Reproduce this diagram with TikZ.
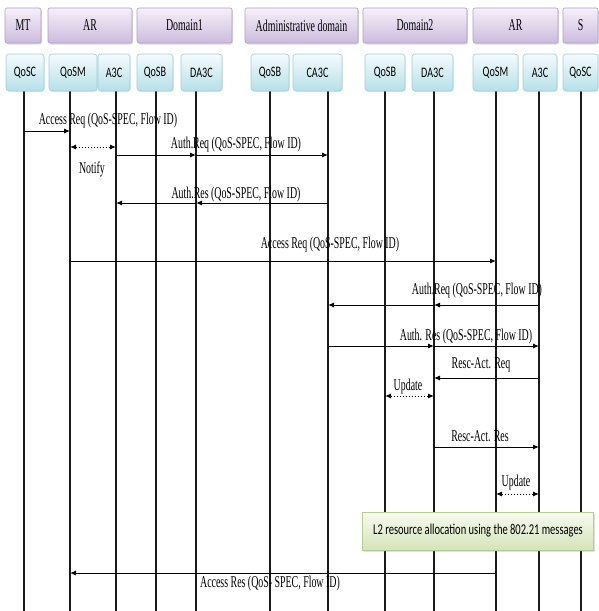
\documentclass[tikz,border=0pt]{standalone}
\usepackage{fontspec}
\setmainfont{Liberation Serif}
\newfontfamily\hdfont[FakeStretch=0.6]{Liberation Serif}
\newfontfamily\boxfont[FakeStretch=0.7]{Carlito}
\usetikzlibrary{arrows.meta,calc,shadows}
\definecolor{hdtop}{HTML}{F5F0F9}
\definecolor{hdbot}{HTML}{CDBBDE}
\definecolor{hdline}{HTML}{B09AC6}
\definecolor{cytop}{HTML}{F4FBFC}
\definecolor{cybot}{HTML}{B6DFE8}
\definecolor{cyline}{HTML}{9ACFDA}
\definecolor{grtop}{HTML}{F7FAEF}
\definecolor{grbot}{HTML}{D3E4B9}
\definecolor{grline}{HTML}{B5CC92}
\definecolor{lifecol}{HTML}{1A1A1A}
\tikzset{
  hdbox/.style={rounded corners=2pt, draw=hdline, line width=0.6pt, top color=hdtop, bottom color=hdbot,
    minimum height=35pt, inner sep=0pt, font=\hdfont\fontsize{16.5}{17}\selectfont,
    drop shadow={shadow xshift=1.2pt, shadow yshift=-1.5pt, opacity=0.25}},
  cybox/.style={rounded corners=3pt, draw=cyline, line width=0.6pt, top color=cytop, bottom color=cybot,
    minimum height=37pt, inner sep=0pt, font=\boxfont\fontsize{14.5}{15}\selectfont,
    drop shadow={shadow xshift=0.8pt, shadow yshift=-1pt, opacity=0.15}},
  grbox/.style={draw=grline, line width=0.6pt, top color=grtop, bottom color=grbot,
    minimum width=231pt, minimum height=38pt, inner sep=0pt, font=\boxfont\fontsize{15}{16}\selectfont,
    drop shadow={shadow xshift=1.2pt, shadow yshift=-1.5pt, opacity=0.25}},
  life/.style={draw=lifecol, line width=1.3pt},
  msg/.style={draw=black, line width=1pt, -{Latex[length=6pt,width=5pt]}},
  dotmsg/.style={draw=black, line width=1pt, dotted, {Latex[length=6pt,width=5pt]}-{Latex[length=6pt,width=5pt]}},
  msglabel/.style={inner sep=0pt, font=\hdfont\fontsize{16.5}{17}\selectfont}
}
\begin{document}
\begin{tikzpicture}[x=1pt,y=-1pt]
\fill[white] (0,0) rectangle (599,611);
\useasboundingbox (0,0) rectangle (599,611);

% lifeline anchors
\coordinate (L1) at (24,91);
\coordinate (L2) at (70,91);
\coordinate (L3) at (116,91);
\coordinate (L4) at (156,91);
\coordinate (L5) at (196,91);
\coordinate (L6) at (270,91);
\coordinate (L7) at (328,91);
\coordinate (L8) at (385,91);
\coordinate (L9) at (434,91);
\coordinate (L10) at (496,91);
\coordinate (L11) at (539,91);
\coordinate (L12) at (581,91);
\coordinate (bot) at (0,611);

\foreach \k in {1,...,12} {\draw[life] (L\k) -- (L\k |- bot);}

% header boxes
\node[hdbox, minimum width=36pt] (mt) at (23,25.5) {MT};
\node[hdbox, minimum width=84pt] (ar1) at (90,25.5) {AR};
\node[hdbox, minimum width=95pt] (dom1) at (184.5,25.5) {Domain1};
\node[hdbox, minimum width=113pt] (adm) at (301.5,25.5) {Administrative domain};
\node[hdbox, minimum width=104pt] (dom2) at (415,25.5) {Domain2};
\node[hdbox, minimum width=85pt] (ar2) at (515.5,25.5) {AR};
\node[hdbox, minimum width=35pt] (s) at (580.5,25.5) {S};

% component boxes
\node[cybox, minimum width=38pt] (qosc1) at (25,72.5) {QoSC};
\node[cybox, minimum width=48pt] (qosm1) at (73,72.5) {QoSM};
\node[cybox, minimum width=32pt] (a3c1) at (114,72.5) {A3C};
\node[cybox, minimum width=36pt] (qosb1) at (155,72.5) {QoSB};
\node[cybox, minimum width=41pt] (da3c1) at (201.5,72.5) {DA3C};
\node[cybox, minimum width=38pt] (qosbA) at (270,72.5) {QoSB};
\node[cybox, minimum width=49pt] (ca3c) at (317.5,72.5) {CA3C};
\node[cybox, minimum width=40pt] (qosb2) at (385,72.5) {QoSB};
\node[cybox, minimum width=41pt] (da3c2) at (432.5,72.5) {DA3C};
\node[cybox, minimum width=45pt] (qosm2) at (495.5,72.5) {QoSM};
\node[cybox, minimum width=34pt] (a3c2) at (540,72.5) {A3C};
\node[cybox, minimum width=35pt] (qosc2) at (580.5,72.5) {QoSC};

% message rows
\coordinate (r1) at (0,131);
\coordinate (r2) at (0,147);
\coordinate (r3) at (0,155);
\coordinate (r4) at (0,203);
\coordinate (r5) at (0,261);
\coordinate (r6) at (0,305);
\coordinate (r7) at (0,346);
\coordinate (r8) at (0,378);
\coordinate (r9) at (0,396);
\coordinate (r10) at (0,447);
\coordinate (r11) at (0,494);
\coordinate (r13) at (0,573);

\draw[msg] (L1 |- r1) -- (L2 |- r1);
\draw[dotmsg] (L2 |- r2) -- (L3 |- r2);
\draw[msg] (L3 |- r3) -- (L5 |- r3);
\draw[msg] (L5 |- r3) -- (L7 |- r3);
\draw[msg] (L7 |- r4) -- (L5 |- r4);
\draw[msg] (L5 |- r4) -- (L3 |- r4);
\draw[msg] (L2 |- r5) -- (L10 |- r5);
\draw[msg] (L11 |- r6) -- (L9 |- r6);
\draw[msg] (L9 |- r6) -- (L7 |- r6);
\draw[msg] (L7 |- r7) -- (L9 |- r7);
\draw[msg] (L9 |- r7) -- (L11 |- r7);
\draw[msg] (L11 |- r8) -- (L9 |- r8);
\draw[dotmsg] (L8 |- r9) -- (L9 |- r9);
\draw[msg] (L9 |- r10) -- (L11 |- r10);
\draw[dotmsg] (L10 |- r11) -- (L11 |- r11);
\draw[msg] (L10 |- r13) -- (L2 |- r13);

% labels
\node[msglabel] (l1) at (108,121) {Access Req (QoS-SPEC, Flow ID)};
\node[msglabel] (l2) at (92,169) {Notify};
\node[msglabel] (l3) at (236,144.5) {Auth.Req (QoS-SPEC, Flow ID)};
\node[msglabel] (l4) at (236,194.5) {Auth.Res (QoS-SPEC, Flow ID)};
\node[msglabel] (l5) at (330,245) {Access Req (QoS-SPEC, Flow ID)};
\node[msglabel] (l6) at (477,291) {Auth.Req (QoS-SPEC, Flow ID)};
\node[msglabel] (l7) at (466,337) {Auth. Res (QoS-SPEC, Flow ID)};
\node[msglabel] (l8) at (481,365) {Resc-Act. Req};
\node[msglabel] (l9) at (408,387) {Update};
\node[msglabel] (l10) at (480,436) {Resc-Act. Res};
\node[msglabel] (l11) at (516,483) {Update};
\node[grbox] (l2box) at (478,531) {L2 resource allocation using the 802.21 messages};
\node[msglabel] (l13) at (270,584) {Access Res (QoS- SPEC, Flow ID)};
\end{tikzpicture}
\end{document}
